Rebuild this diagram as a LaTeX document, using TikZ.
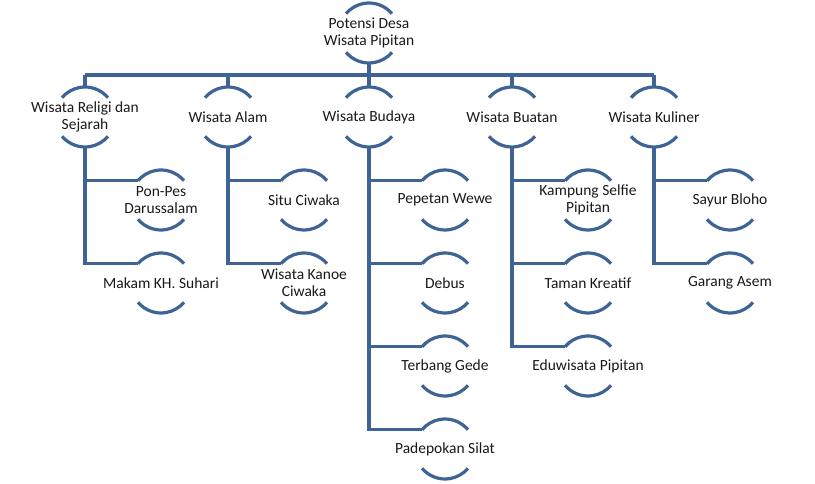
\documentclass[tikz,border=0pt]{standalone}
\usepackage{fontspec}
\setmainfont{Carlito}
\definecolor{smartblue}{RGB}{62,100,150}
\definecolor{smarttext}{RGB}{25,25,25}
\tikzset{
  unit/.style={circle, minimum size=60pt, inner sep=0pt, outer sep=0pt},
  lbl/.style={align=center, text=smarttext, font=\fontsize{15.5}{17}\selectfont},
  link/.style={draw=smartblue, line width=3.2pt},
}
\begin{document}
\begin{tikzpicture}[x=1pt, y=-1pt]
  \useasboundingbox (0,0) rectangle (815,484);
  % top
  \node[unit, label={[lbl]center:Potensi Desa\\Wisata Pipitan}] (root) at (369,33) {};
  % level 1
  \node[unit, label={[lbl]center:Wisata Religi dan\\Sejarah}] (rel) at (85,117) {};
  \node[unit, label={[lbl]center:Wisata Alam}] (alm) at (228,117) {};
  \node[unit, label={[lbl]center:Wisata Budaya}] (bud) at (369,117) {};
  \node[unit, label={[lbl]center:Wisata Buatan}] (bua) at (512,117) {};
  \node[unit, label={[lbl]center:Wisata Kuliner}] (kul) at (654,117) {};
  % level 2
  \node[unit, label={[lbl]center:Pon-Pes\\Darussalam}] (rel1) at (161,200) {};
  \node[unit, label={[lbl]center:Makam KH. Suhari}] (rel2) at (161,283) {};
  \node[unit, label={[lbl]center:Situ Ciwaka}] (alm1) at (304,200) {};
  \node[unit, label={[lbl]center:Wisata Kanoe\\Ciwaka}] (alm2) at (304,283) {};
  \node[unit, label={[lbl]center:Pepetan Wewe}] (bud1) at (445,200) {};
  \node[unit, label={[lbl]center:Debus}] (bud2) at (445,283) {};
  \node[unit, label={[lbl]center:Terbang Gede}] (bud3) at (445,366) {};
  \node[unit, label={[lbl]center:Padepokan Silat}] (bud4) at (445,449) {};
  \node[unit, label={[lbl]center:Kampung Selfie\\Pipitan}] (bua1) at (588,200) {};
  \node[unit, label={[lbl]center:Taman Kreatif}] (bua2) at (588,283) {};
  \node[unit, label={[lbl]center:Eduwisata Pipitan}] (bua3) at (588,366) {};
  \node[unit, label={[lbl]center:Sayur Bloho}] (kul1) at (730,200) {};
  \node[unit, label={[lbl]center:Garang Asem}] (kul2) at (730,283) {};

  % connectors
  \coordinate (bus) at (0,75);
  \draw[link] (root.south) -- (root.south |- bus);
  \draw[link] (rel.north |- bus) -- (kul.north |- bus);
  \foreach \n in {rel,alm,bud,bua,kul}
    \draw[link] (\n.north |- bus) -- (\n.north);
  \foreach \p/\c in {rel/rel1,rel/rel2,alm/alm1,alm/alm2,bud/bud1,bud/bud2,bud/bud3,bud/bud4,
                     bua/bua1,bua/bua2,bua/bua3,kul/kul1,kul/kul2}
    \draw[link] (\p.south) |- (\c.140);

  % arcs
  \foreach \n in {root,rel,alm,bud,bua,kul,rel1,rel2,alm1,alm2,bud1,bud2,bud3,bud4,bua1,bua2,bua3,kul1,kul2}
    \draw[link] (\n.40) arc[start angle=40, end angle=140, radius=30pt]
                (\n.220) arc[start angle=220, end angle=320, radius=30pt];
\end{tikzpicture}
\end{document}
